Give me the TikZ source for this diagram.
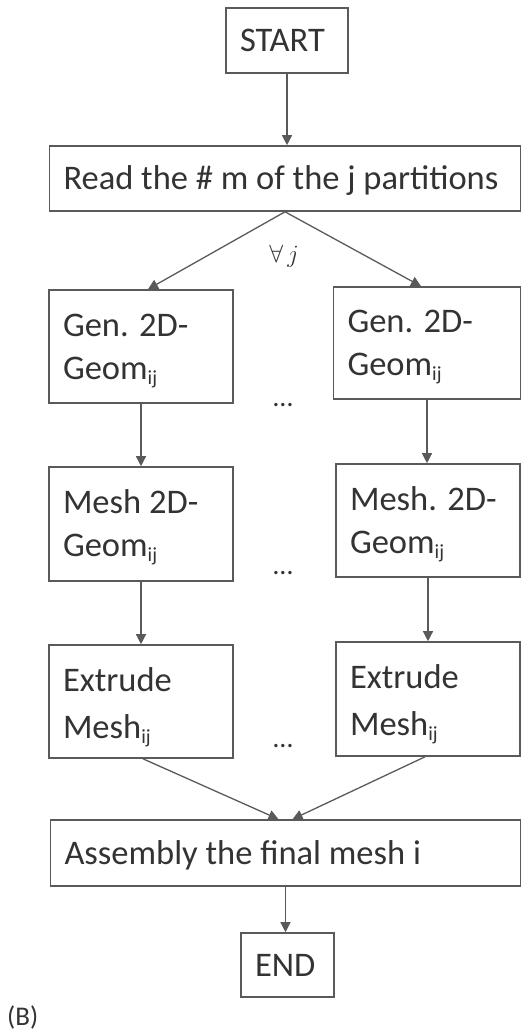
\documentclass[tikz,border=0pt]{standalone}
\usepackage{fontspec}
\setmainfont{Carlito}
\usetikzlibrary{arrows.meta,positioning}
\definecolor{txt}{HTML}{333333}
\definecolor{ln}{HTML}{5A5A5A}
\newcommand{\sbij}{\raisebox{-5pt}{\fontsize{20}{20}\selectfont ij}}
\begin{document}
\begin{tikzpicture}[x=1pt,y=-1pt,
  box/.style={draw=ln, line width=1.6pt, rectangle, inner xsep=14pt, inner ysep=0pt,
    align=flush left, text=txt, font=\fontsize{34.5}{43}\selectfont},
  one/.style={text height=22.5pt, text depth=0pt},
  two/.style={text height=22.5pt, text depth=43pt},
  conn/.style={draw=ln, line width=1.3pt, -{Triangle[length=10pt,width=10pt]}},
  dots/.style={text=txt, font=\fontsize{28}{28}\selectfont, inner sep=0pt}]
\useasboundingbox (0,0) rectangle (522,1035);
% top
\node[box, one, minimum width=122pt, minimum height=65pt, text width=94pt] (start) at (287,40.5) {START};
\node[box, one, minimum width=471pt, minimum height=65pt, text width=443pt] (read) at (285,178.5) {Read the \# m of the j partitions};
% left column
\node[box, two, minimum width=184pt, minimum height=113pt, text width=156pt] (genL) at (141,346.5) {Gen. 2D-\\Geom\sbij};
\node[box, two, minimum width=184pt, minimum height=114pt, text width=156pt] (meshL) at (141,524) {Mesh 2D-\\Geom\sbij};
\node[box, two, minimum width=184pt, minimum height=113pt, text width=156pt] (extL) at (141,701.5) {Extrude\\[4pt]Mesh\sbij};
% right column
\node[box, two, minimum width=187pt, minimum height=112pt, text width=159pt] (genR) at (427,343) {Gen. 2D-\\Geom\sbij};
\node[box, two, minimum width=184pt, minimum height=113pt, text width=156pt] (meshR) at (428,520.5) {Mesh. 2D-\\Geom\sbij};
\node[box, two, minimum width=184pt, minimum height=114pt, text width=156pt] (extR) at (428,699) {Extrude\\[4pt]Mesh\sbij};
% bottom
\node[box, one, minimum width=470pt, minimum height=66pt, text width=442pt] (asm) at (285.5,853) {Assembly the final mesh i};
\node[box, one, minimum width=93pt, minimum height=64pt, text width=65pt] (endn) at (287.5,965) {END};
% labels
\node[text=txt, font=\fontsize{26}{26}\selectfont, inner sep=0pt] (forall) at (284,256) {$\forall\,j$};
\node[dots] (d1) at (283,405) {\ldots};
\node[dots] (d2) at (283,573) {\ldots};
\node[dots] (d3) at (283,746) {\ldots};
\node[text=txt, font=\fontsize{27}{27}\selectfont, inner sep=0pt, anchor=west] (lblB) at (7,1017) {(B)};
% connectors
\draw[conn] (start.south) -- (read.north -| start.south);
\draw[conn] (read.south) -- ([xshift=7pt]genL.north);
\draw[conn] (read.south) -- ([xshift=-6pt]genR.north);
\draw[conn] (genL.south) -- (meshL.north);
\draw[conn] (meshL.south) -- (extL.north);
\draw[conn] (genR.south) -- (meshR.north -| genR.south);
\draw[conn] (meshR.south) -- (extR.north);
\draw[conn] ([xshift=2pt]extL.south) -- ([xshift=-7pt]asm.north);
\draw[conn] ([xshift=-3pt]extR.south) -- ([xshift=7pt]asm.north);
\draw[conn] (asm.south) -- (endn.north -| asm.south);
\end{tikzpicture}
\end{document}
